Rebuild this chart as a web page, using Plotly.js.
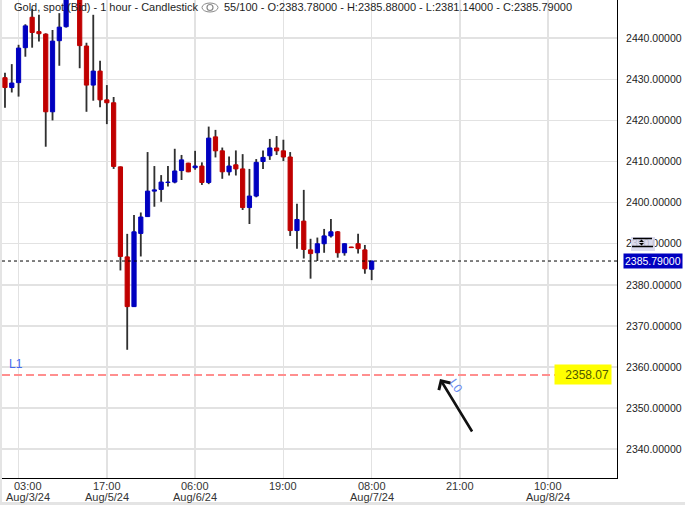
<!DOCTYPE html>
<html><head><meta charset="utf-8">
<script src="https://cdn.plot.ly/plotly-3.0.1.min.js"></script>
<style>html,body{margin:0;padding:0;background:#fff;overflow:hidden}#chart{width:685px;height:505px}</style>
</head><body><div id="chart"></div>
<script>
// ---- data (hourly candles, Gold spot Bid) ----
const openP  = [2430.4,2428.0,2429.2,2437.7,2445.1,2441.6,2441.0,2422.1,2439.4,2442.8,
                2451.5,2453.0,2438.1,2428.6,2432.0,2425.0,2424.3,2408.7,2386.8,2374.7,
                2392.5,2396.6,2402.8,2403.2,2404.9,2405.0,2407.8,2409.6,2408.5,2408.9,
                2404.9,2416.0,2412.6,2407.5,2409.2,2408.2,2398.8,2401.6,2410.0,2411.4,
                2413.3,2412.6,2411.1,2393.2,2395.5,2388.5,2387.8,2390.0,2391.9,2392.9,
                2387.8,2389.2,2390.0,2388.5,2383.78];
const highP  = [2431.6,2433.7,2438.4,2443.4,2447.1,2445.7,2441.2,2442.0,2446.1,2452.5,
                2458.0,2454.0,2438.9,2445.7,2434.5,2428.6,2425.7,2408.8,2392.4,2397.0,
                2397.6,2412.3,2408.9,2406.7,2408.9,2413.1,2411.6,2409.7,2412.6,2409.8,
                2418.5,2417.7,2413.4,2411.2,2412.7,2411.8,2408.2,2410.6,2412.7,2415.5,
                2416.2,2415.3,2412.3,2399.7,2403.1,2391.2,2391.5,2393.6,2396.0,2393.1,
                2390.1,2389.25,2392.4,2389.7,2385.88];
const lowP   = [2423.1,2426.8,2425.8,2435.5,2437.7,2439.2,2413.6,2420.0,2433.3,2442.6,
                2450.2,2432.7,2422.1,2424.8,2423.2,2419.1,2408.2,2383.5,2364.2,2374.6,
                2386.9,2396.5,2399.0,2400.2,2403.9,2404.7,2405.5,2407.4,2408.0,2404.3,
                2404.5,2411.0,2405.8,2406.6,2406.6,2398.2,2394.8,2401.3,2408.2,2410.4,
                2411.6,2410.1,2391.9,2388.8,2386.4,2381.5,2385.8,2387.8,2391.5,2386.6,
                2387.1,2389.0,2387.6,2382.7,2381.14];
const closeP = [2428.0,2429.1,2437.6,2443.0,2441.4,2441.1,2422.1,2439.3,2442.7,2451.5,
                2453.0,2438.2,2428.6,2432.0,2425.0,2424.3,2408.8,2386.9,2374.7,2392.9,
                2396.5,2402.8,2403.1,2405.0,2405.0,2407.7,2410.4,2407.5,2408.9,2404.9,
                2415.7,2412.6,2407.5,2408.9,2408.2,2398.8,2401.6,2409.8,2411.0,2413.3,
                2412.6,2411.1,2393.2,2395.9,2388.6,2387.6,2390.0,2391.9,2392.9,2387.8,
                2390.0,2389.05,2388.8,2383.9,2385.79];
const tickIdx  = [2,15,28,41,54,67,80];
const tickTime = ['03:00','17:00','06:00','19:00','08:00','21:00','10:00'];
const tickDate = ['Aug/3/24','Aug/5/24','Aug/6/24','','Aug/7/24','','Aug/8/24'];
const yTicks   = [2340,2350,2360,2370,2380,2390,2400,2410,2420,2430,2440];
const levelL1  = 2358.07;
const instrument = 'Gold, spot (Bid) - 1 hour - Candlestick';
const shownCount = '55/100';

// ---- derived ----
const n = openP.length, last = n - 1;
const idx = openP.map((_, i) => i);
const isUp = idx.map(i => closeP[i] >= openP[i]);
const UP = '#0000c0', DOWN = '#c00000', WICK = '#303030';
const colors = isUp.map(u => u ? UP : DOWN);
const FIRST_SHIFT = 9;   // first time label is nudged inside the canvas

const wicks = {
  type: 'bar', x: idx, base: lowP, y: idx.map(i => highP[i] - lowP[i]),
  width: 0.27, marker: {color: WICK, line: {width: 0}}, hoverinfo: 'skip'
};
const bodies = {
  type: 'bar', x: idx, base: idx.map(i => Math.min(openP[i], closeP[i])),
  y: idx.map(i => Math.abs(closeP[i] - openP[i])),
  width: 0.62, marker: {color: colors, line: {color: colors, width: 1}}, hoverinfo: 'skip'
};

const W = 685, H = 505, L = 2, R = 68, T = 0, B = 27;
const pw = W - L - R, ph = H - T - B;
const px = x => (x - L) / pw;
const py = y => 1 - (y - T) / ph;

const header2 = shownCount + ' - O:' + openP[last].toFixed(5) + ' - H:' + highP[last].toFixed(5) +
                ' - L:' + lowP[last].toFixed(5) + ' - C:' + closeP[last].toFixed(5);

const shapes = [
  {type:'line', xref:'paper', x0:0, x1:1, yref:'y', y0:closeP[last], y1:closeP[last],
   line:{color:'#000', width:1, dash:'3px,3px'}},
  {type:'line', xref:'paper', x0:0, x1:0.99, yref:'y', y0:levelL1, y1:levelL1,
   line:{color:'#ff8f8f', width:2, dash:'8px,4px'}},
  {type:'rect', xref:'paper', yref:'paper', x0:px(0), x1:px(2), y0:py(505), y1:py(0),
   fillcolor:'#e4e4e4', line:{width:0}},
  {type:'rect', xref:'paper', yref:'paper', x0:px(0), x1:px(685), y0:py(505), y1:py(502),
   fillcolor:'#e4e4e4', line:{width:0}},
  {type:'circle', xref:'paper', yref:'paper', x0:px(202), x1:px(218), y0:py(12), y1:py(3),
   line:{color:'#8a8a8a', width:1}},
  {type:'circle', xref:'paper', yref:'paper', x0:px(207), x1:px(213), y0:py(10.5), y1:py(4.5),
   line:{color:'#8a8a8a', width:1.2}},
  {type:'rect', xref:'paper', yref:'paper', x0:px(631), x1:px(655), y0:py(251), y1:py(237),
   fillcolor:'rgba(214,214,236,0.85)', line:{width:0}},
  {type:'line', xref:'paper', yref:'paper', x0:px(633), x1:px(652), y0:py(238.5), y1:py(238.5),
   line:{color:'#000', width:1.5}},
  {type:'line', xref:'paper', yref:'paper', x0:px(632), x1:px(653), y0:py(246.5), y1:py(246.5),
   line:{color:'#000', width:1.5}},
  {type:'path', xref:'paper', yref:'paper',
   path:`M${px(639)},${py(242)} L${px(644)},${py(242)} L${px(641.5)},${py(239.5)} Z`,
   fillcolor:'#000', line:{width:0}},
  {type:'path', xref:'paper', yref:'paper',
   path:`M${px(639)},${py(243)} L${px(644)},${py(243)} L${px(641.5)},${py(245.5)} Z`,
   fillcolor:'#000', line:{width:0}}
];

const annotations = [
  {xref:'paper', yref:'paper', x:px(12), y:py(7), xanchor:'left', yanchor:'middle',
   text:instrument, showarrow:false, font:{size:11, color:'#1e1e1e'}},
  {xref:'paper', yref:'paper', x:px(222), y:py(7), xanchor:'left', yanchor:'middle',
   text:header2, showarrow:false, font:{size:11, color:'#1e1e1e'}},
  {xref:'paper', yref:'paper', x:px(7), y:py(364), xanchor:'left', yanchor:'middle',
   text:'L1', showarrow:false, font:{size:12, color:'#4469ee'}},
  {xref:'paper', yref:'paper', x:px(456), y:py(386), xanchor:'center', yanchor:'middle',
   text:'L0', textangle:55, showarrow:false, font:{size:12, color:'#6a8cf0'}},
  {xref:'paper', yref:'paper', x:px(440), y:py(379), text:'', showarrow:true,
   ax:33, ay:54, arrowhead:4, arrowsize:1, arrowwidth:2.6, arrowcolor:'#111'},
  {xref:'paper', yref:'y', x:px(612), y:levelL1, xanchor:'right', yanchor:'middle',
   text:levelL1.toFixed(2), showarrow:false, bgcolor:'#ffff00', borderpad:2,
   width:52, height:15, align:'right', font:{size:12, color:'#4f5a00'}},
  {xref:'paper', yref:'y', x:px(623), y:closeP[last], xanchor:'left', yanchor:'middle',
   text:closeP[last].toFixed(5), showarrow:false, bgcolor:'#0000c0', borderpad:1,
   font:{size:10.5, color:'#ffffff'}}
];
// time-axis labels (time and date lines), placed on the x scale at the tick positions
tickIdx.forEach((ti, k) => {
  const sh = k === 0 ? FIRST_SHIFT : 0;
  annotations.push({xref:'x', yref:'paper', x:ti, y:py(486), xanchor:'center',
    yanchor:'middle', text:tickTime[k], showarrow:false, xshift:sh,
    font:{size:11, color:'#333'}});
  if (tickDate[k]) annotations.push({xref:'x', yref:'paper', x:ti, y:py(497), xanchor:'center',
    yanchor:'middle', text:tickDate[k], showarrow:false, xshift:sh,
    font:{size:11, color:'#333'}});
});

const layout = {
  width:W, height:H, margin:{l:L, r:R, t:T, b:B, pad:0},
  paper_bgcolor:'#ffffff', plot_bgcolor:'#ffffff',
  barmode:'overlay', showlegend:false, hovermode:false,
  font:{family:'"Liberation Sans", Arial, sans-serif', size:11, color:'#222'},
  xaxis:{range:[-0.44, 90.13], tickmode:'array', tickvals:tickIdx, showticklabels:false,
         showgrid:true, gridcolor:'#e2e2e2', gridwidth:1.5, showline:true, linecolor:'#000',
         linewidth:1, ticks:'', zeroline:false, fixedrange:true},
  yaxis:{side:'right', range:[2333.0, 2449.3], tickmode:'array', tickvals:yTicks,
         tickformat:'.5f', showgrid:true, gridcolor:'#e2e2e2', gridwidth:1.5,
         showline:true, linecolor:'#000', linewidth:1, ticks:'', ticklabelstandoff:6,
         zeroline:false, fixedrange:true, tickfont:{size:10.5, color:'#222'}},
  shapes:shapes, annotations:annotations
};

Plotly.newPlot('chart', [wicks, bodies], layout, {displayModeBar:false, staticPlot:true});
</script></body></html>
